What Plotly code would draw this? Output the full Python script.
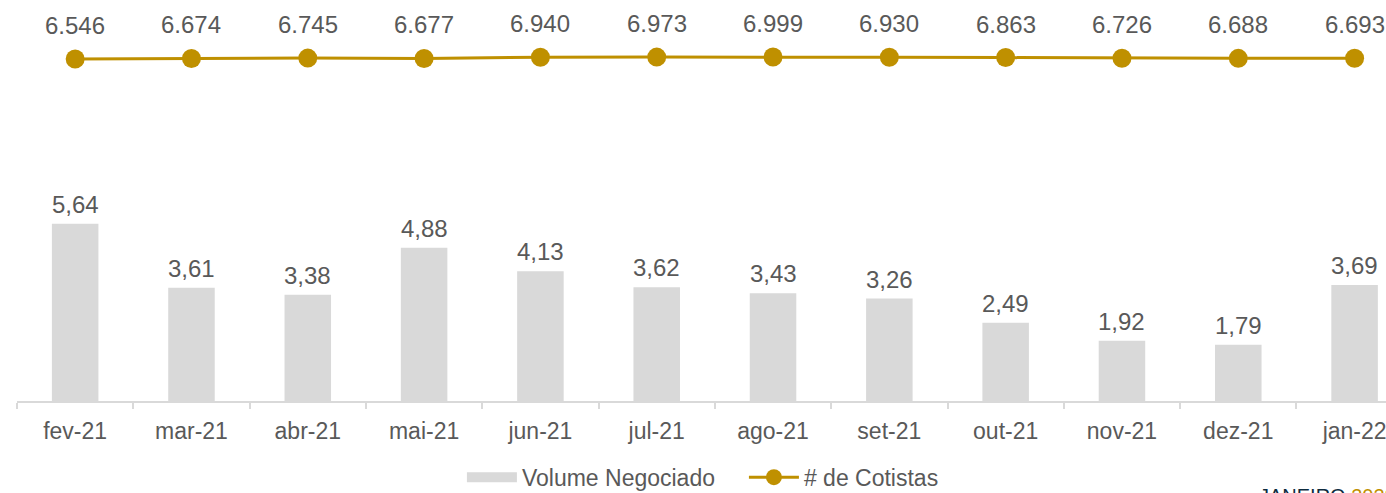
import plotly.graph_objects as go

months = ["fev-21", "mar-21", "abr-21", "mai-21", "jun-21", "jul-21",
          "ago-21", "set-21", "out-21", "nov-21", "dez-21", "jan-22"]
volume = [5.64, 3.61, 3.38, 4.88, 4.13, 3.62, 3.43, 3.26, 2.49, 1.92, 1.79, 3.69]
cotistas = [6546, 6674, 6745, 6677, 6940, 6973, 6999, 6930, 6863, 6726, 6688, 6693]

GOLD = "#bf9000"
GRAY = "#d9d9d9"
TEXT = "#595959"
FONT = "Liberation Sans, Arial, sans-serif"

fig = go.Figure()
fig.add_trace(go.Bar(
    x=months, y=volume, name="Volume Negociado",
    marker=dict(color=GRAY, line=dict(width=0)), width=0.4,
    yaxis="y", showlegend=False,
))
# legend proxy giving the wide rectangular swatch of the bar series
fig.add_trace(go.Scatter(
    x=[None], y=[None], name="Volume Negociado", mode="lines",
    line=dict(color=GRAY, width=14), yaxis="y", showlegend=True,
))
fig.add_trace(go.Scatter(
    x=months, y=cotistas, name="# de Cotistas", mode="lines+markers",
    line=dict(color=GOLD, width=3), marker=dict(color=GOLD, size=19),
    yaxis="y2",
))

annotations = []
for m, v in zip(months, volume):
    annotations.append(dict(
        x=m, y=v, xref="x", yref="y", text=f"{v:.2f}".replace(".", ","),
        showarrow=False, yanchor="bottom", yshift=4,
        font=dict(size=24, color=TEXT, family=FONT),
    ))
for m, v in zip(months, cotistas):
    annotations.append(dict(
        x=m, y=v, xref="x", yref="y2", text=f"{v:,}".replace(",", "."),
        showarrow=False, yanchor="bottom", yshift=18,
        font=dict(size=24, color=TEXT, family=FONT),
    ))
annotations.append(dict(
    x=0.906, y=-0.21, xref="paper", yref="paper", xanchor="left", yanchor="top",
    text="JANEIRO <span style='color:#bf9000'>2022</span>", showarrow=False,
    font=dict(size=20, color="#0d2b3e", family=FONT),
))

fig.update_layout(
    width=1386, height=493,
    margin=dict(l=17, r=0, t=10, b=92, autoexpand=False),
    paper_bgcolor="white", plot_bgcolor="white",
    font=dict(family=FONT, color=TEXT, size=23),
    showlegend=True,
    legend=dict(orientation="h", x=0.325, xanchor="left", y=-0.195, yanchor="middle",
                font=dict(size=23, color=TEXT, family=FONT), itemwidth=50,
                entrywidth=217, entrywidthmode="pixels",
                traceorder="normal"),
    xaxis=dict(
        range=[-0.5, 11.27], showline=True, linecolor=GRAY, linewidth=2,
        ticks="outside", tickson="boundaries", ticklen=6, tickcolor=GRAY, tickwidth=2,
        tickfont=dict(size=23, color=TEXT, family=FONT), ticklabelstandoff=8,
        showgrid=False, zeroline=False, automargin=False,
    ),
    yaxis=dict(range=[0, 12.45], visible=False, showgrid=False, zeroline=False),
    yaxis2=dict(range=[-70830, 17630], overlaying="y", visible=False,
                showgrid=False, zeroline=False),
    annotations=annotations,
)

fig.write_html("out.html", config={"displayModeBar": False},
               post_script="document.body.style.margin='0';")
